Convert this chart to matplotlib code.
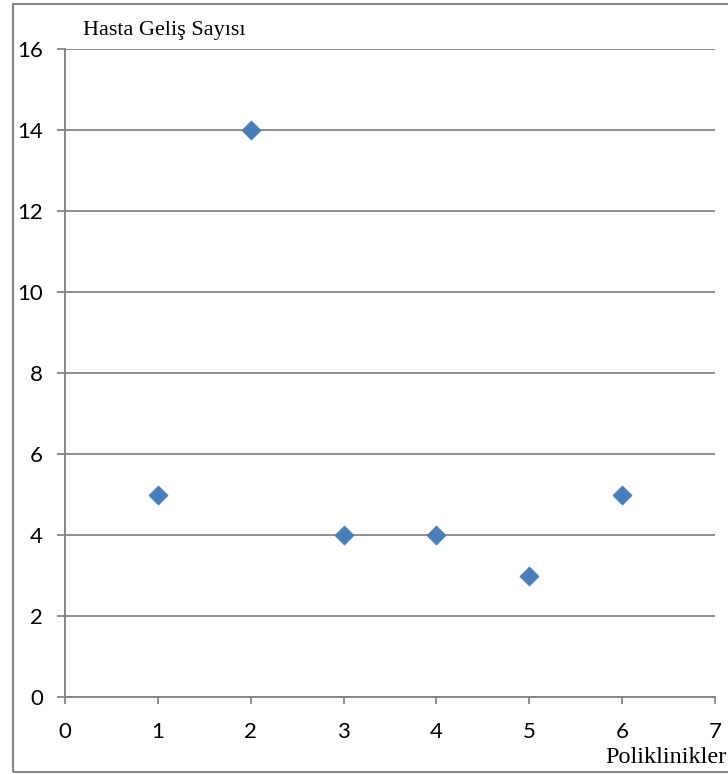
import matplotlib
matplotlib.use("Agg")
import matplotlib.pyplot as plt
from matplotlib.patches import Rectangle

# Polyclinic numbers and patient arrival counts
poliklinik = [1, 2, 3, 4, 5, 6]
hasta_sayisi = [5, 14, 4, 4, 3, 5]
x_ticks = [0, 1, 2, 3, 4, 5, 6, 7]
y_ticks = [0, 2, 4, 6, 8, 10, 12, 14, 16]

GRAY = "#868686"
BLUE = "#4A7EBB"

fig = plt.figure(figsize=(7.28, 7.74), dpi=100)
ax = fig.add_axes([65 / 728, 77 / 774, (715 - 65) / 728, (697 - 49) / 774])

ax.scatter(poliklinik, hasta_sayisi, marker="D", s=95, color=BLUE,
           edgecolors=BLUE, linewidths=0.5, zorder=3)

ax.set_xlim(0, 7)
ax.set_ylim(0, 16)
ax.set_xticks(x_ticks)
ax.set_yticks(y_ticks)

ax.yaxis.grid(True, color=GRAY, linewidth=1.3)
ax.set_axisbelow(True)
for side in ("top", "right"):
    ax.spines[side].set_visible(False)
for side in ("left", "bottom"):
    ax.spines[side].set_color(GRAY)
    ax.spines[side].set_linewidth(1.4)

ax.tick_params(axis="y", colors=GRAY, length=6, width=1.3, pad=10,
               labelcolor="black", labelsize=16)
ax.tick_params(axis="x", colors=GRAY, length=5, width=1.3, pad=13,
               labelcolor="black", labelsize=16)
for lbl in ax.get_xticklabels() + ax.get_yticklabels():
    lbl.set_fontfamily("Lato")

fig.text(83 / 728, 1 - 35 / 774, "Hasta Geliş Sayısı", family="Liberation Serif",
         fontsize=16, ha="left", va="baseline")
fig.text(727 / 728, 1 - 763 / 774, "Poliklinikler", family="Liberation Serif",
         fontsize=17.5, ha="right", va="baseline")

# Outer frame of the chart area
fig.patches.append(Rectangle((12.5 / 728, 2 / 774), 1.0, (770 - 2) / 774,
                             transform=fig.transFigure, fill=False,
                             edgecolor=GRAY, linewidth=1.5, clip_on=False))

fig.savefig("out.png", dpi=100)
